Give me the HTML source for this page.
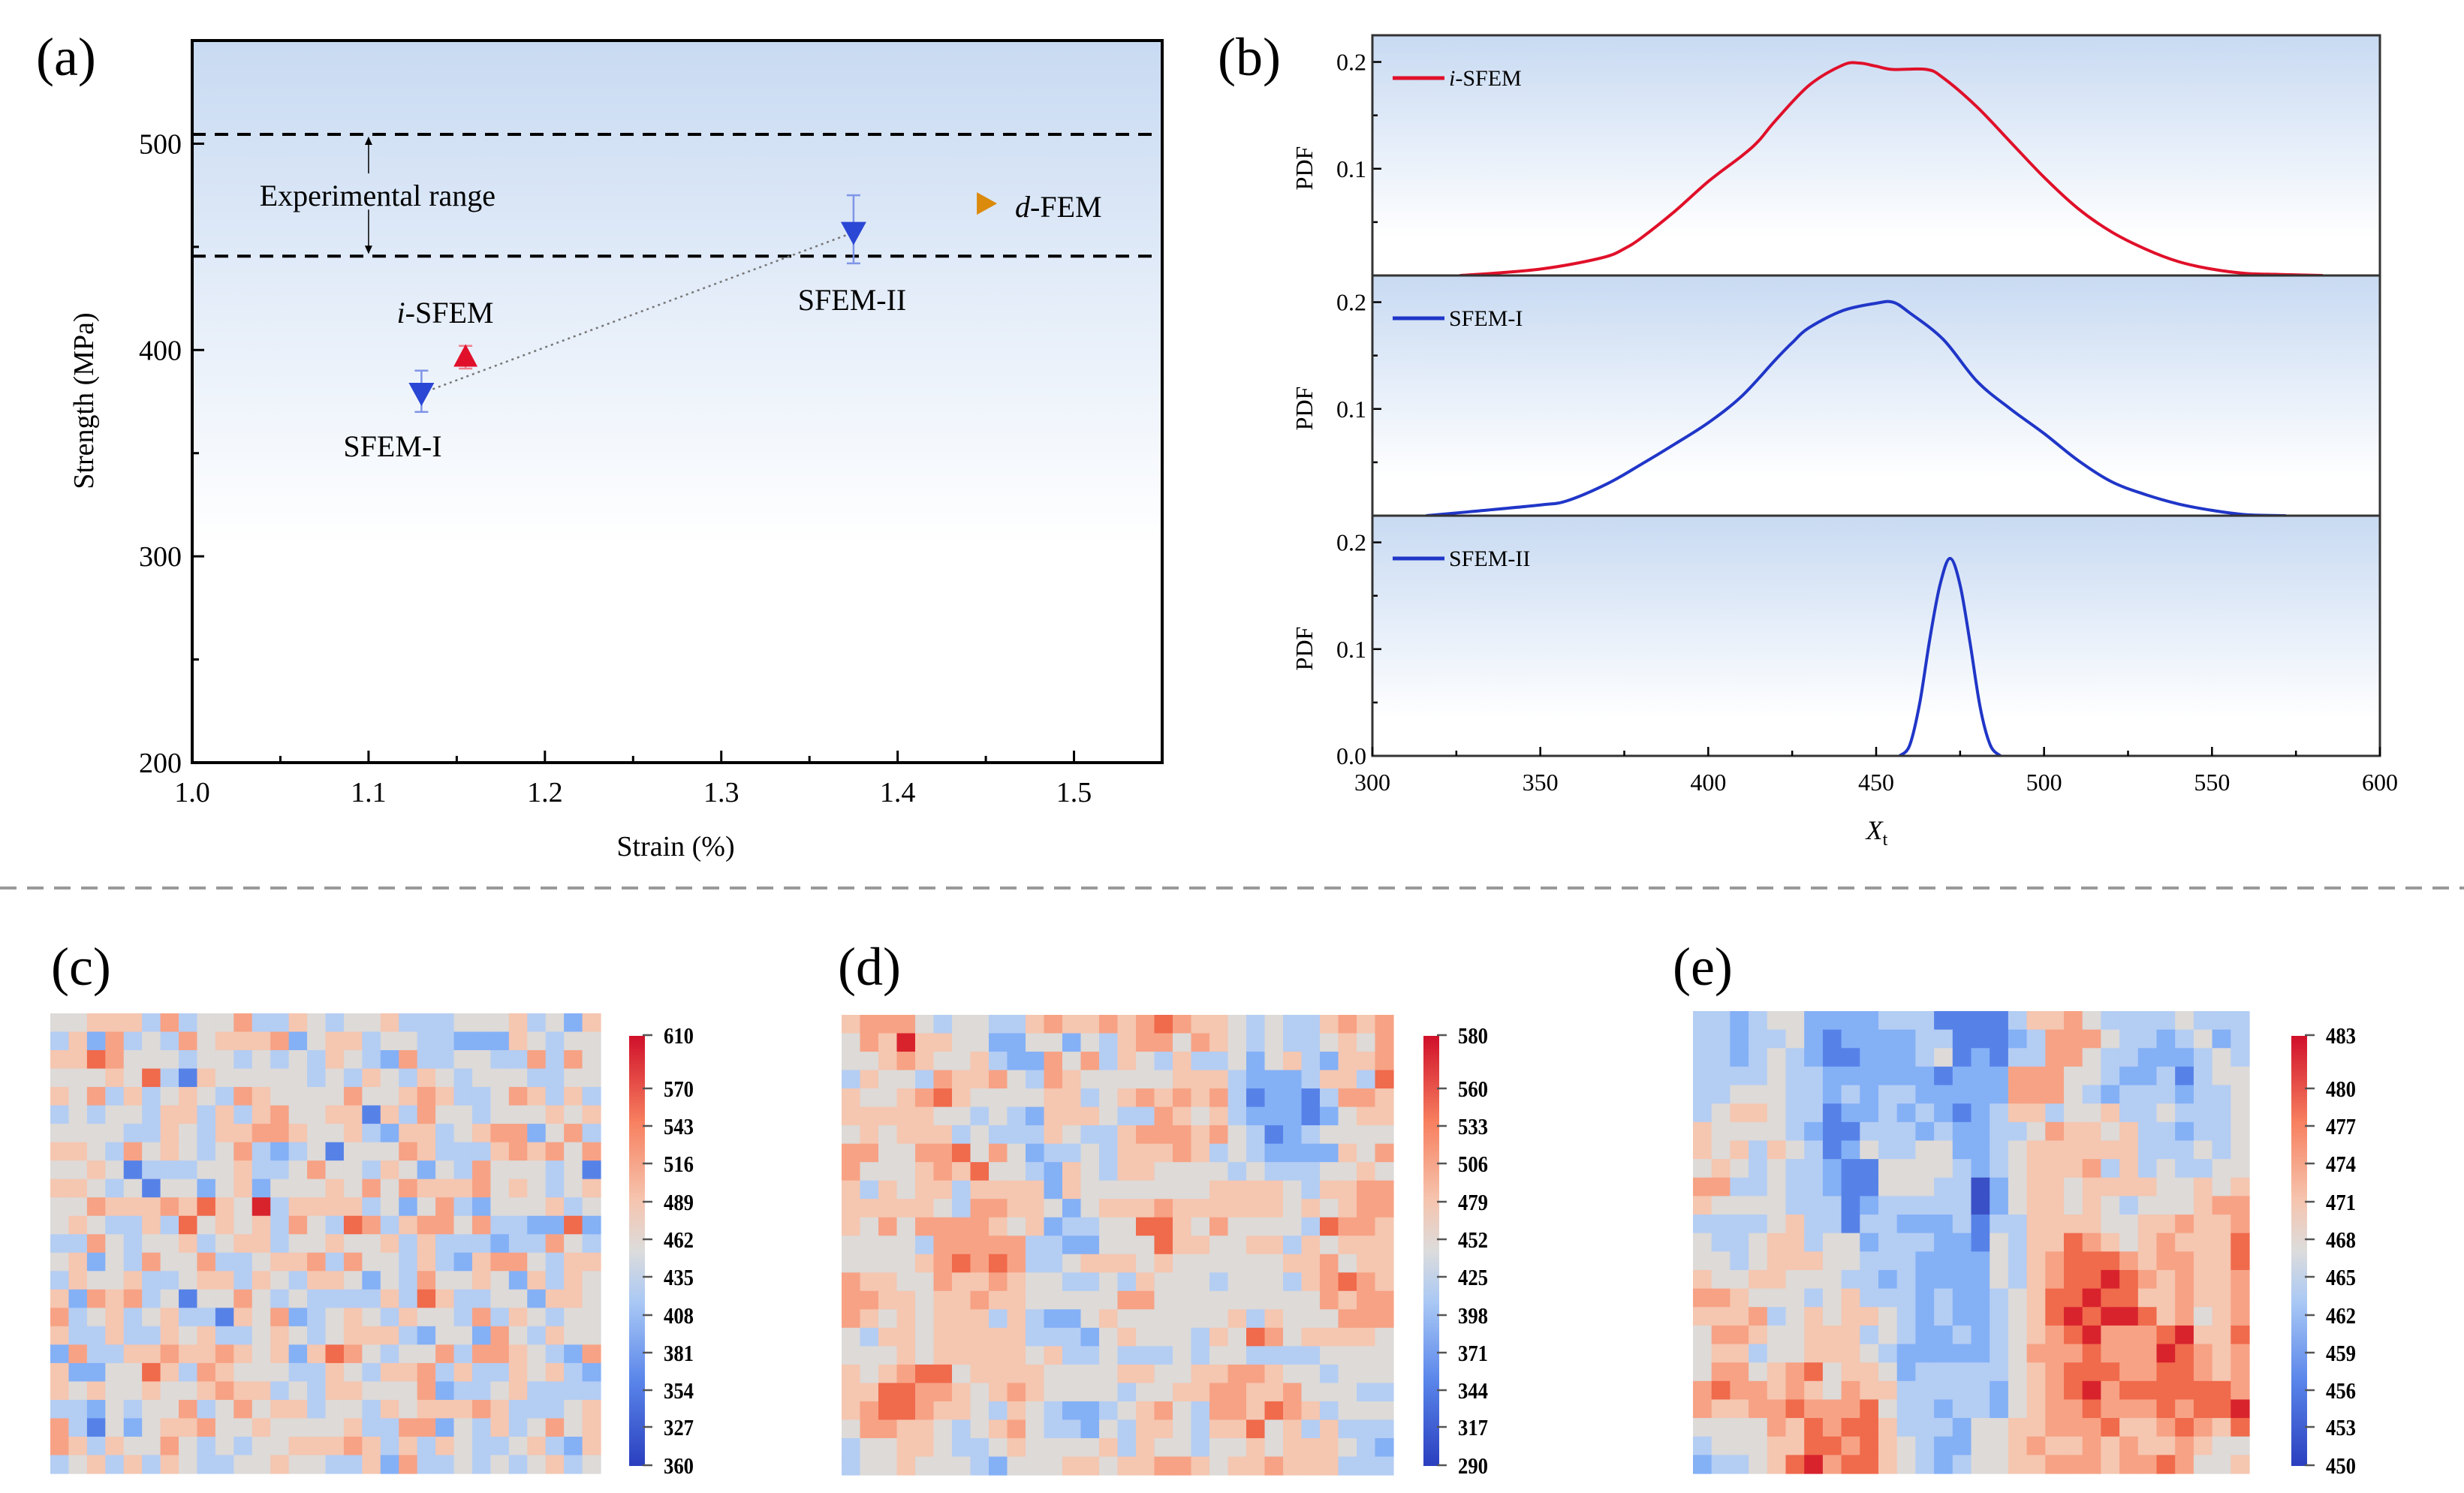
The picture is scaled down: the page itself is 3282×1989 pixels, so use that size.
<!DOCTYPE html>
<html><head><meta charset="utf-8"><style>
html,body{margin:0;padding:0;background:#fff}
svg{display:block}
text{font-family:"Liberation Serif",serif;fill:#000}
</style></head><body>
<svg id="fig" xmlns="http://www.w3.org/2000/svg" width="3282" height="1989" viewBox="0 0 3282 1989">
<defs>
<linearGradient id="gA" x1="0" y1="0" x2="0" y2="1"><stop offset="0" stop-color="#c8daf2"/><stop offset="0.7" stop-color="#ffffff"/></linearGradient>
<linearGradient id="gB" x1="0" y1="0" x2="0" y2="1"><stop offset="0" stop-color="#c8daf2"/><stop offset="0.85" stop-color="#ffffff"/></linearGradient>
<linearGradient id="cb" x1="0" y1="1" x2="0" y2="0"><stop offset="0" stop-color="#2a3fbf"/><stop offset="0.2" stop-color="#5a86ea"/><stop offset="0.38" stop-color="#a9c8f5"/><stop offset="0.5" stop-color="#dcdcdc"/><stop offset="0.62" stop-color="#f6c4ae"/><stop offset="0.8" stop-color="#f7805f"/><stop offset="1" stop-color="#d0102a"/></linearGradient>
</defs>
<g id="panelA"></g>
<g id="panelB"></g>
<line x1="0" y1="1183" x2="3282" y2="1183" stroke="#9a9a9a" stroke-width="4" stroke-dasharray="22,14"/>
<g id="panelC"></g>
<g id="panelD"></g>
<g id="panelE"></g>
</svg>
<script>
// ---------- Panel (a) data ----------
const aNames = ["SFEM-I","i-SFEM","SFEM-II","d-FEM"];
const aStrain = [1.13, 1.155, 1.375, 1.45];
const aStrength = [379, 397, 457, 471];
const aErrLow = [370, 391, 442, 471];
const aErrHigh = [390, 402, 475, 471];
const aExpRange = [445.5, 504.5];
const aXTicks = [1.0,1.1,1.2,1.3,1.4,1.5];
const aYTicks = [200,300,400,500];

// ---------- Panel (b) data ----------
const bX1 = [326,340,350,360,370,375,380,390,400,410,415,420,430,440,445,450,455,465,470,480,490,500,510,520,530,540,550,560,570,583];
const bY1 = [0,0.003,0.006,0.011,0.018,0.025,0.035,0.06,0.088,0.112,0.126,0.145,0.178,0.197,0.199,0.196,0.193,0.193,0.185,0.158,0.125,0.092,0.063,0.041,0.025,0.013,0.006,0.002,0.001,0];
const bX2 = [316,330,350,358,370,380,390,400,410,420,425,430,440,450,455,460,470,480,490,500,510,520,530,540,550,560,572];
const bY2 = [0,0.004,0.01,0.014,0.03,0.048,0.067,0.087,0.112,0.146,0.162,0.176,0.192,0.199,0.2,0.19,0.165,0.126,0.1,0.077,0.052,0.032,0.02,0.011,0.005,0.001,0];
const bX3 = [457,460,463,466,469,472,475,478,481,484,487];
const bY3 = [0,0.01,0.05,0.11,0.16,0.185,0.16,0.105,0.045,0.01,0];
const bXTicks = [300,350,400,450,500,550,600];

// ---------- Heatmap data (colour levels 0=blue .. 4=neutral .. 8=red) ----------
const cRows = [
"445553634463354344533344453425","352634364555624553443322254344","557644434434343543263344336364","444547315444443435435434443344",
"546353454365444464456533465353","343443553535644551536443444545","444433543556654453255345662463","554364543463234144465333565646",
"445413334453346443542436444341","554341442452444546465556454345","446555657548355553424632444534","454335374545364376356646332272",
"336434453455344544535333233643","452436446334556364435325664355","354453345535435542436445425354","526563414464343333537533442554",
"634534533154623454354436354344","533533545334543455532442643544","263355655654525764344636654326","522447536544433543556353354532",
"545445445655343554446233453333","332434463464553443545556533345","631424556445444453366243534645","653544643434455565353543345325",
"345353543344544335263343434534"];
const dRows = [
"566643443356556567655434335656","465855442244243566465434334546","445654453226463543533424532556","354436556436544444555322235537",
"544567544445534565656312213665","555554434325554336545322212455","454555343335433566656431234444","664466746423343555653432222546",
"644456574432543554444343334454","535455355552544444445555435566","555554366554245556555555454566","546466665452334477546444437665",
"444436666633224447554455354555","444456767633455545444444556455","655446556544334354443444356765","665545565544444664444444446566",
"654545553532245444444535444666","435545555533324544435476455554","444545555545334333434433334444","545677455554444554455665443444",
"557766545654444344556655644433","567765543543223456436657653444","466554345643324355435574535333","344554334544445354434454555432",
"344544432444554556654556555333"];
const eRows = [
"332344222233311113556433334333","332334212222331112366643323423","332343211222341213366433222343","333343322222212226664432231344",
"334443323233222226664323332334","345543312232321235534453343334","544443211333232233465545332334","545354312433442234555555333434",
"454343321144443234555635343344","663343321144433024554555544545","544443331233333024554543444566","333345331332223133555544556556",
"433455344233322143557654565557","443455544333222243567776566557","544554443323222243567787656556","665444345333232234577877556556",
"555634545543232234578788756456","466544555343223234567866678557","455344555432222234666766687656","466456745542333334567776677656",
"676656546553333324567867777776","655667666743323324566766676778","444465767753332445566675567657","344455776754322445655656556544",
"233457867754323445566656676445"];
const palette = ["#3a50c6","#5682e8","#84b0f6","#b4cdf3","#dddad8","#f5c6b0","#f7a285","#f06a4c","#d8232d"];
const cTicks = ["610","570","543","516","489","462","435","408","381","354","327","360"];
const dTicks = ["580","560","533","506","479","452","425","398","371","344","317","290"];
const eTicks = ["483","480","477","474","471","468","465","462","459","456","453","450"];

const NS="http://www.w3.org/2000/svg";
function mk(parent, tag, attrs, txt){
  const el=document.createElementNS(NS,tag);
  for(const k in attrs) el.setAttribute(k,attrs[k]);
  if(txt!==undefined) el.textContent=txt;
  parent.appendChild(el); return el;
}
function smooth(pts){
  let d="M"+pts[0][0].toFixed(1)+","+pts[0][1].toFixed(1);
  for(let i=0;i<pts.length-1;i++){
    const p0=pts[Math.max(i-1,0)],p1=pts[i],p2=pts[i+1],p3=pts[Math.min(i+2,pts.length-1)];
    const c1=[p1[0]+(p2[0]-p0[0])/6,p1[1]+(p2[1]-p0[1])/6];
    const c2=[p2[0]-(p3[0]-p1[0])/6,p2[1]-(p3[1]-p1[1])/6];
    d+=" C"+c1[0].toFixed(1)+","+c1[1].toFixed(1)+" "+c2[0].toFixed(1)+","+c2[1].toFixed(1)+" "+p2[0].toFixed(1)+","+p2[1].toFixed(1);
  }
  return d;
}

// ================= Panel A =================
(function(){
  const g=document.getElementById('panelA');
  const L=256,R=1548,T=54,B=1016;
  const xs=v=>L+(v-1.0)/(0.55)*(R-L);
  const ys=v=>B-(v-200)/350*(B-T);
  let el=mk(g,'rect',{x:L,y:T,width:R-L,height:B-T,fill:'url(#gA)'});
   
  el=mk(g,'text',{x:48,y:100,'font-size':72},'(a)');
   
  aExpRange.forEach((v,i)=>{
    const ln=mk(g,'line',{x1:L,x2:R,y1:ys(v),y2:ys(v),stroke:'#000','stroke-width':4,'stroke-dasharray':'18,12'});
     
  });
  const ax=xs(1.1), yTop=ys(aExpRange[1]), yBot=ys(aExpRange[0]);
  el=mk(g,'line',{x1:ax,x2:ax,y1:yTop+4,y2:yTop+52,stroke:'#000','stroke-width':1.5});
   
  el=mk(g,'path',{d:`M${ax-5},${yTop+14} L${ax},${yTop+3} L${ax+5},${yTop+14}Z`,fill:'#000'});
   
  el=mk(g,'line',{x1:ax,x2:ax,y1:yBot-62,y2:yBot-4,stroke:'#000','stroke-width':1.5});
   
  el=mk(g,'path',{d:`M${ax-5},${yBot-14} L${ax},${yBot-3} L${ax+5},${yBot-14}Z`,fill:'#000'});
   
  el=mk(g,'text',{x:ax+12,y:(yTop+yBot)/2+14,'font-size':40,'text-anchor':'middle'},'Experimental range');
   
  el=mk(g,'line',{x1:xs(aStrain[0]),y1:ys(aStrength[0]),x2:xs(aStrain[2]),y2:ys(aStrength[2]),stroke:'#777','stroke-width':2.5,'stroke-dasharray':'3,5'});
   
  const cols=['#2a46d4','#e0102a','#2a46d4','#db8a0c'];
  const ecols=['#7f95e8','#ee7f8c','#7f95e8','#db8a0c'];
  for(let i=0;i<aNames.length;i++){
    const x=xs(aStrain[i]),y=ys(aStrength[i]);
    if(aErrHigh[i]!==aErrLow[i]){
      const eb=mk(g,'path',{d:`M${x},${ys(aErrLow[i])}V${ys(aErrHigh[i])}M${x-9},${ys(aErrLow[i])}h18M${x-9},${ys(aErrHigh[i])}h18`,stroke:ecols[i],'stroke-width':2.5,fill:'none'});
       
    }
    let d;
    if(i===1) d=`M${x-16},${y+14} L${x+16},${y+14} L${x},${y-16}Z`;
    else if(i===3) d=`M${x-12},${y-15} L${x+15},${y} L${x-12},${y+15}Z`;
    else d=`M${x-17},${y-14} L${x+17},${y-14} L${x},${y+17}Z`;
    const m=mk(g,'path',{d:d,fill:cols[i]});
    
    
  }
  const lab=(x,y,parts,anchor,name)=>{
    const t=mk(g,'text',{x:x,y:y,'font-size':40,'text-anchor':anchor});
    parts.forEach(p=>{mk(t,'tspan',p[1]?{'font-style':'italic'}:{},p[0]);});
     
  };
  lab(593,430,[['i',1],['-SFEM',0]],'middle','label-i-sfem');
  lab(523,608,[['SFEM-I',0]],'middle','label-sfem-i');
  lab(1135,413,[['SFEM-II',0]],'middle','label-sfem-ii');
  lab(1352,289,[['d',1],['-FEM',0]],'start','label-d-fem');
  el=mk(g,'rect',{x:L,y:T,width:R-L,height:B-T,fill:'none',stroke:'#000','stroke-width':4});
   
  for(let v=1.0;v<=1.551;v+=0.05){
    const major=Math.abs(v*10-Math.round(v*10))<1e-6;
    const x=xs(v);
    const t=mk(g,'line',{x1:x,x2:x,y1:B,y2:B-(major?16:9),stroke:'#000','stroke-width':3});
     
  }
  aXTicks.forEach(v=>{
    const t=mk(g,'text',{x:xs(v),y:1068,'font-size':38,'text-anchor':'middle'},v.toFixed(1));
     
  });
  for(let v=200;v<=550;v+=50){
    const major=v%100===0;
    const t=mk(g,'line',{x1:L,x2:L+(major?16:9),y1:ys(v),y2:ys(v),stroke:'#000','stroke-width':3});
     
  }
  aYTicks.forEach(v=>{
    const t=mk(g,'text',{x:242,y:ys(v)+13,'font-size':38,'text-anchor':'end'},String(v));
     
  });
  el=mk(g,'text',{x:900,y:1140,'font-size':38,'text-anchor':'middle'},'Strain (%)');
   
  el=mk(g,'text',{x:0,y:0,'font-size':38,'text-anchor':'middle',transform:'translate(124,534) rotate(-90)'},'Strength (MPa)');
   
})();

// ================= Panel B =================
(function(){
  const g=document.getElementById('panelB');
  const L=1828,R=3170;
  const tops=[47,367,687], H=320;
  const xs=v=>L+(v-300)/300*(R-L);
  let el=mk(g,'text',{x:1622,y:100,'font-size':72},'(b)');
   
  const series=[[bX1,bY1,'#e0102a','i-SFEM'],[bX2,bY2,'#2036c8','SFEM-I'],[bX3,bY3,'#2036c8','SFEM-II']];
  series.forEach((s,k)=>{
    const T=tops[k],B=T+H;
    const ys=v=>B-v/0.225*H;
    let r=mk(g,'rect',{x:L,y:T,width:R-L,height:H,fill:'url(#gB)'});
     
    const pts=s[0].map((x,i)=>[xs(x),ys(s[1][i])]);
    const p=mk(g,'path',{d:smooth(pts),fill:'none',stroke:s[2],'stroke-width':4});
     
    const lg=mk(g,'line',{x1:1855,x2:1924,y1:T+57,y2:T+57,stroke:s[2],'stroke-width':5});
     
    const lt=mk(g,'text',{x:1930,y:T+67,'font-size':30});
    if(k===0){mk(lt,'tspan',{'font-style':'italic'},'i'); mk(lt,'tspan',{},'-SFEM');} else lt.textContent=s[3];
     
    for(let v=0;v<=0.2001;v+=0.05){
      const major=Math.abs(v*10-Math.round(v*10))<1e-6;
      const t=mk(g,'line',{x1:L,x2:L+(major?12:7),y1:ys(v),y2:ys(v),stroke:'#000','stroke-width':2.5});
       
    }
    ['0.0','0.1','0.2'].forEach((lab,i)=>{
      if(i===0 && k<2) return;
      const t=mk(g,'text',{x:L-8,y:ys(i*0.1)+11,'font-size':32,'text-anchor':'end'},lab);
       
    });
    const pl=mk(g,'text',{x:0,y:0,'font-size':32,'text-anchor':'middle',transform:`translate(1748,${T+H/2+17}) rotate(-90)`},'PDF');
     
    const fr=mk(g,'rect',{x:L,y:T,width:R-L,height:H,fill:'none',stroke:'#333','stroke-width':3});
     
  });
  const B=tops[2]+H;
  for(let v=300;v<=600;v+=25){
    const major=v%50===0;
    const t=mk(g,'line',{x1:xs(v),x2:xs(v),y1:B,y2:B-(major?12:7),stroke:'#000','stroke-width':2.5});
     
  }
  bXTicks.forEach(v=>{
    const t=mk(g,'text',{x:xs(v),y:1053,'font-size':32,'text-anchor':'middle'},String(v));
     
  });
  el=mk(g,'text',{x:2500,y:1118,'font-size':36,'text-anchor':'middle'});
  mk(el,'tspan',{'font-style':'italic'},'X');
  mk(el,'tspan',{'font-size':24,dy:8},'t');
   
})();

// ================= Heatmaps =================
function heatmap(id,rows,ticks,box,cbx,label,labx){
  const g=document.getElementById(id);
  const [x0,y0,x1,y1]=box;
  const nr=rows.length, nc=rows[0].length;
  const cw=(x1-x0)/nc, ch=(y1-y0)/nr;
  let el=mk(g,'text',{x:labx,y:1312,'font-size':72},label);
   
  for(let r=0;r<nr;r++){
    for(let c=0;c<nc;c++){
      const lv=parseInt(rows[r][c],10);
      const cell=mk(g,'rect',{x:(x0+c*cw).toFixed(2),y:(y0+r*ch).toFixed(2),width:(cw+0.6).toFixed(2),height:(ch+0.6).toFixed(2),fill:palette[lv]});
      
      
    }
  }
  el=mk(g,'rect',{x:cbx,y:1380,width:21,height:573,fill:'url(#cb)'});
   
  const ty=[1379,1450,1500,1550,1601,1651,1701,1752,1802,1852,1901,1952];
  ticks.forEach((t,i)=>{
    const ln=mk(g,'line',{x1:cbx+18,x2:cbx+31,y1:ty[i],y2:ty[i],stroke:'#555','stroke-width':2.5});
     
    const tx=mk(g,'text',{x:cbx+46,y:ty[i]+11,'font-size':31,'font-weight':'bold',transform:`scale(0.86,1)`,'transform-origin':`${cbx+46} ${ty[i]}`},t);
     
  });
}
heatmap('panelC',cRows,cTicks,[67,1350,800,1963],838,'(c)',68);
heatmap('panelD',dRows,dTicks,[1121,1352,1856,1965],1896,'(d)',1116);
heatmap('panelE',eRows,eTicks,[2255,1347,2996,1963],3052,'(e)',2228);
</script>
</body></html>
